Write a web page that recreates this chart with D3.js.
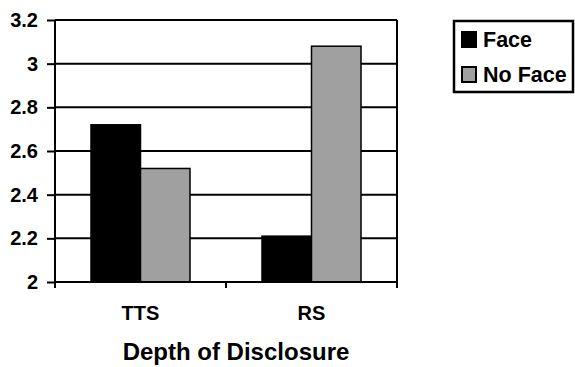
<!DOCTYPE html>
<html>
<head>
<meta charset="utf-8">
<script src="https://cdn.jsdelivr.net/npm/d3@7"></script>
<style>
  html, body { margin: 0; padding: 0; background: #fff; }
  svg { display: block; }
  text { font-family: Arial, "Liberation Sans", sans-serif; font-weight: bold; fill: #000; }
</style>
</head>
<body>
<svg id="chart" width="575" height="367"></svg>
<script>
// Mean scores by depth of disclosure, split by face condition
const categories = ["TTS", "RS"];
const seriesNames = ["Face", "No Face"];
const faceValues = [2.72, 2.21];
const noFaceValues = [2.52, 3.08];
const yTickValues = [2, 2.2, 2.4, 2.6, 2.8, 3, 3.2];
const seriesColors = ["#000000", "#a0a0a0"];

const svg = d3.select("#chart");
const margin = { left: 55, top: 20, right: 178, bottom: 85 };
const W = 575, H = 367;
const plotW = W - margin.left - margin.right;
const plotH = H - margin.top - margin.bottom;

const x = d3.scaleBand().domain(categories).range([0, plotW]).padding(0);
const x1 = d3.scaleBand().domain(seriesNames).range([0, x.bandwidth()])
  .paddingInner(0).paddingOuter(0.727);
const y = d3.scaleLinear().domain([2, 3.2]).range([plotH, 0]);
const color = d3.scaleOrdinal().domain(seriesNames).range(seriesColors);

const g = svg.append("g").attr("transform", `translate(${margin.left},${margin.top})`);

// Horizontal gridlines
g.append("g").selectAll("line")
  .data(yTickValues.filter(v => v > 2))
  .join("line")
  .attr("x1", 0).attr("x2", plotW)
  .attr("y1", d => y(d)).attr("y2", d => y(d))
  .attr("stroke", "#000").attr("stroke-width", 2);

// Bars
const rows = categories.map((c, i) => ({ cat: c, vals: [faceValues[i], noFaceValues[i]] }));
g.append("g").selectAll("g")
  .data(rows)
  .join("g")
  .attr("transform", d => `translate(${x(d.cat)},0)`)
  .selectAll("rect")
  .data(d => d.vals.map((v, j) => ({ key: seriesNames[j], v })))
  .join("rect")
  .attr("x", d => x1(d.key))
  .attr("width", x1.bandwidth())
  .attr("y", d => y(d.v))
  .attr("height", d => y(2) - y(d.v))
  .attr("fill", d => color(d.key))
  .attr("stroke", "#000").attr("stroke-width", 1.5);

// Right border of the plot area
g.append("line")
  .attr("x1", plotW).attr("x2", plotW)
  .attr("y1", 0).attr("y2", plotH)
  .attr("stroke", "#000").attr("stroke-width", 2);

// Y axis
const yAxis = g.append("g")
  .call(d3.axisLeft(y).tickValues(yTickValues).tickSize(8).tickPadding(9)
    .tickFormat(d => d3.format("")(d)));
yAxis.select(".domain").attr("stroke-width", 2).attr("d", `M0,0V${plotH + 6}`);
yAxis.selectAll(".tick line").attr("stroke-width", 2);
yAxis.selectAll(".tick text").style("font-size", "20px");

// X axis: ticks at category boundaries
const xAxis = g.append("g").attr("transform", `translate(0,${plotH})`);
xAxis.append("line").attr("x1", 0).attr("x2", plotW)
  .attr("stroke", "#000").attr("stroke-width", 2);
const boundaries = [0, ...categories.map(c => x(c) + x.bandwidth())];
xAxis.selectAll(".bt").data(boundaries).join("line").attr("class", "bt")
  .attr("x1", d => d).attr("x2", d => d).attr("y1", 0).attr("y2", 6)
  .attr("stroke", "#000").attr("stroke-width", 2);
xAxis.selectAll(".cl").data(categories).join("text").attr("class", "cl")
  .attr("x", d => x(d) + x.bandwidth() / 2)
  .attr("y", 38)
  .attr("text-anchor", "middle")
  .style("font-size", "20px")
  .text(d => d);

// Axis title
svg.append("text")
  .attr("x", 236)
  .attr("y", 360)
  .attr("text-anchor", "middle")
  .style("font-size", "24px")
  .text("Depth of Disclosure");

// Legend
const legend = svg.append("g").attr("transform", "translate(454,21)");
legend.append("rect").attr("x", 0).attr("y", 0).attr("width", 119).attr("height", 71)
  .attr("fill", "#fff").attr("stroke", "#000").attr("stroke-width", 2.5);
const items = legend.selectAll(".item").data(seriesNames).join("g").attr("class", "item")
  .attr("transform", (d, i) => `translate(8,${11 + i * 35})`);
items.append("rect").attr("width", 14).attr("height", 15)
  .attr("fill", d => color(d)).attr("stroke", "#000").attr("stroke-width", 2);
items.append("text").attr("x", 21).attr("y", 15)
  .style("font-size", "21.5px").text(d => d);
</script>
</body>
</html>
